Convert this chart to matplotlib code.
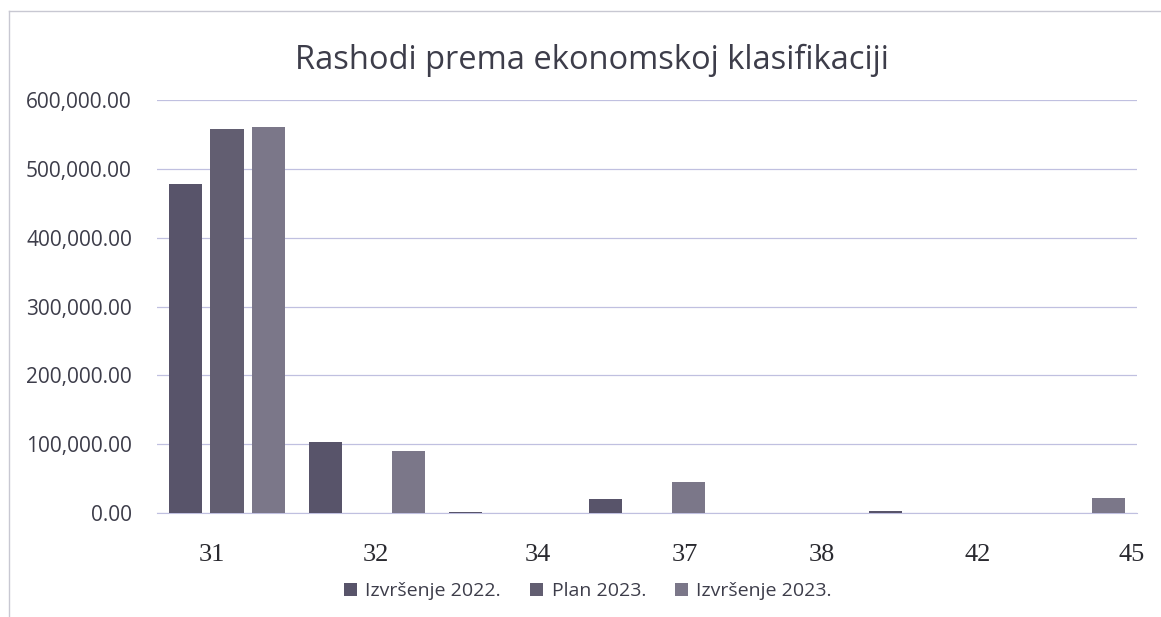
import numpy as np
import matplotlib
matplotlib.use("Agg")
import matplotlib.pyplot as plt
from matplotlib.lines import Line2D

# data
categories = ["31", "32", "34", "37", "38", "42", "45"]
series_names = ["Izvršenje 2022.", "Plan 2023.", "Izvršenje 2023."]
izvrsenje_2022 = [478000, 103000, 800, 20000, 0, 2500, 0]
plan_2023 = [558500, 0, 0, 0, 0, 0, 0]
izvrsenje_2023 = [561000, 90000, 600, 45000, 0, 700, 22000]

# the printed category labels do not sit under the group centres in the scan
label_pos = [-0.11, 1.06, 2.22, 3.27, 4.25, 5.36, 6.46]

colors = ["#58546a", "#625e71", "#7b7789"]
grid_col = "#c0c0e0"
text_col = "#3d3d4a"

W, H = 1161, 617
fig = plt.figure(figsize=(W / 100, H / 100), dpi=100)
ax = fig.add_axes([157 / W, 1 - 513 / H, (1137 - 157) / W, (513 - 100) / H])

x = np.arange(len(categories))
bw = 0.236
step = 0.296
for i, vals in enumerate([izvrsenje_2022, plan_2023, izvrsenje_2023]):
    ax.bar(x + (i - 1) * step, vals, width=bw, color=colors[i],
           label=series_names[i], zorder=3)

ax.set_xlim(-0.5, len(categories) - 0.5)
ax.set_ylim(0, 600000)
ax.set_yticks(np.arange(0, 600001, 100000))
ax.yaxis.set_major_formatter(matplotlib.ticker.FuncFormatter(lambda v, p: f"{v:,.2f}"))
ax.grid(axis="y", color=grid_col, linewidth=0.9, zorder=0)
for s in ["top", "right", "left"]:
    ax.spines[s].set_visible(False)
ax.spines["bottom"].set_color(grid_col)
ax.tick_params(axis="y", length=0, pad=18, labelsize=15, labelcolor=text_col)
for t in ax.get_yticklabels():
    t.set_family("Open Sans")

ax.set_xticks(label_pos)
ax.set_xticklabels(categories, family="Liberation Serif", fontsize=19, color="#2a2a30")
ax.tick_params(axis="x", length=0, pad=22)

fig.text(592 / W, 1 - 60 / H, "Rashodi prema ekonomskoj klasifikaciji",
         ha="center", va="center", fontsize=23.5, family="Open Sans", color=text_col)

fig.legend(loc="center", bbox_to_anchor=(588 / W, 1 - 591 / H), ncol=3,
           frameon=False, handlelength=0.65, handleheight=0.65, handletextpad=0.45,
           columnspacing=1.5, prop={"family": "Open Sans", "size": 14},
           labelcolor=text_col)

# faint chart-area border left and top
fig.add_artist(Line2D([9 / W, 9 / W], [0, 1 - 11 / H], transform=fig.transFigure,
                      color="#c8c8d2", linewidth=1))
fig.add_artist(Line2D([9 / W, 1], [1 - 11 / H, 1 - 11 / H], transform=fig.transFigure,
                      color="#c8c8d2", linewidth=1))

fig.savefig("out.png", dpi=100)
